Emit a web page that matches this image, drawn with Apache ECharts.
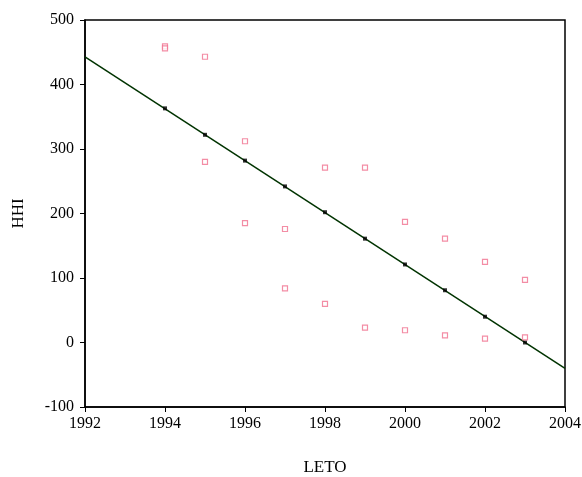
<!DOCTYPE html>
<html>
<head>
<meta charset="utf-8">
<script src="https://cdn.jsdelivr.net/npm/echarts@6/dist/echarts.min.js"></script>
<style>
  html, body { margin: 0; padding: 0; background: #fff; }
  #chart { width: 582px; height: 477px; }
</style>
</head>
<body>
<div id="chart"></div>
<script>
// observed values (two per year)
var years = [1994, 1995, 1996, 1997, 1998, 1999, 2000, 2001, 2002, 2003];
var obsHigh = [459, 443, 312, 176, 271, 271, 187, 161, 125, 97];
var obsLow = [456, 280, 185, 84, 60, 23, 19, 11, 6, 8];
// fitted values on the regression line
var fitted = [363, 322, 282, 242, 202, 161, 121, 81, 40, 0];
// line end points at the axis edges
var lineX = [1992, 2004];
var lineY = [443, -40];

var xTicks = [1992, 2004, 2];
var yTicks = [-100, 500, 100];

var observed = [];
years.forEach(function (y, i) {
    observed.push([y, obsHigh[i]]);
    observed.push([y, obsLow[i]]);
});

var chart = echarts.init(document.getElementById('chart'));
var font = 'Liberation Serif';

chart.setOption({
    animation: false,
    grid: {
        left: 85, right: 17, top: 20, bottom: 70,
        outerBoundsMode: 'none',
        containLabel: false,
        show: true,
        borderColor: '#000',
        borderWidth: 1.5
    },
    xAxis: {
        type: 'value',
        min: xTicks[0], max: xTicks[1], interval: xTicks[2],
        name: 'LETO',
        nameLocation: 'middle',
        nameGap: 52,
        nameTextStyle: { fontFamily: font, fontSize: 17, color: '#000' },
        axisLine: { show: true, onZero: false, lineStyle: { color: '#000', width: 1.5 } },
        axisTick: { show: true, length: 5, lineStyle: { color: '#000' } },
        axisLabel: { fontFamily: font, fontSize: 16, color: '#000', margin: 9,
            formatter: function (v) { return String(v); } },
        splitLine: { show: false }
    },
    yAxis: {
        type: 'value',
        min: yTicks[0], max: yTicks[1], interval: yTicks[2],
        name: 'HHI',
        nameLocation: 'middle',
        nameRotate: 90,
        nameGap: 58,
        nameTextStyle: { fontFamily: font, fontSize: 17, color: '#000' },
        axisLine: { show: true, onZero: false, lineStyle: { color: '#000', width: 1.5 } },
        axisTick: { show: true, length: 5, lineStyle: { color: '#000' } },
        axisLabel: { fontFamily: font, fontSize: 16, color: '#000', margin: 11,
            formatter: function (v) { return String(v); } },
        splitLine: { show: false }
    },
    series: [
        {
            type: 'line',
            data: lineX.map(function (x, i) { return [x, lineY[i]]; }),
            showSymbol: false,
            lineStyle: { color: '#003300', width: 1.5 },
            z: 2
        },
        {
            type: 'scatter',
            data: years.map(function (y, i) { return [y, fitted[i]]; }),
            symbol: 'rect',
            symbolSize: 4,
            itemStyle: { color: '#000' },
            z: 3
        },
        {
            type: 'scatter',
            data: observed,
            symbol: 'rect',
            symbolSize: 5,
            itemStyle: { color: '#fff', borderColor: '#f0708f', borderWidth: 1.2 },
            z: 4
        }
    ]
});
</script>
</body>
</html>
